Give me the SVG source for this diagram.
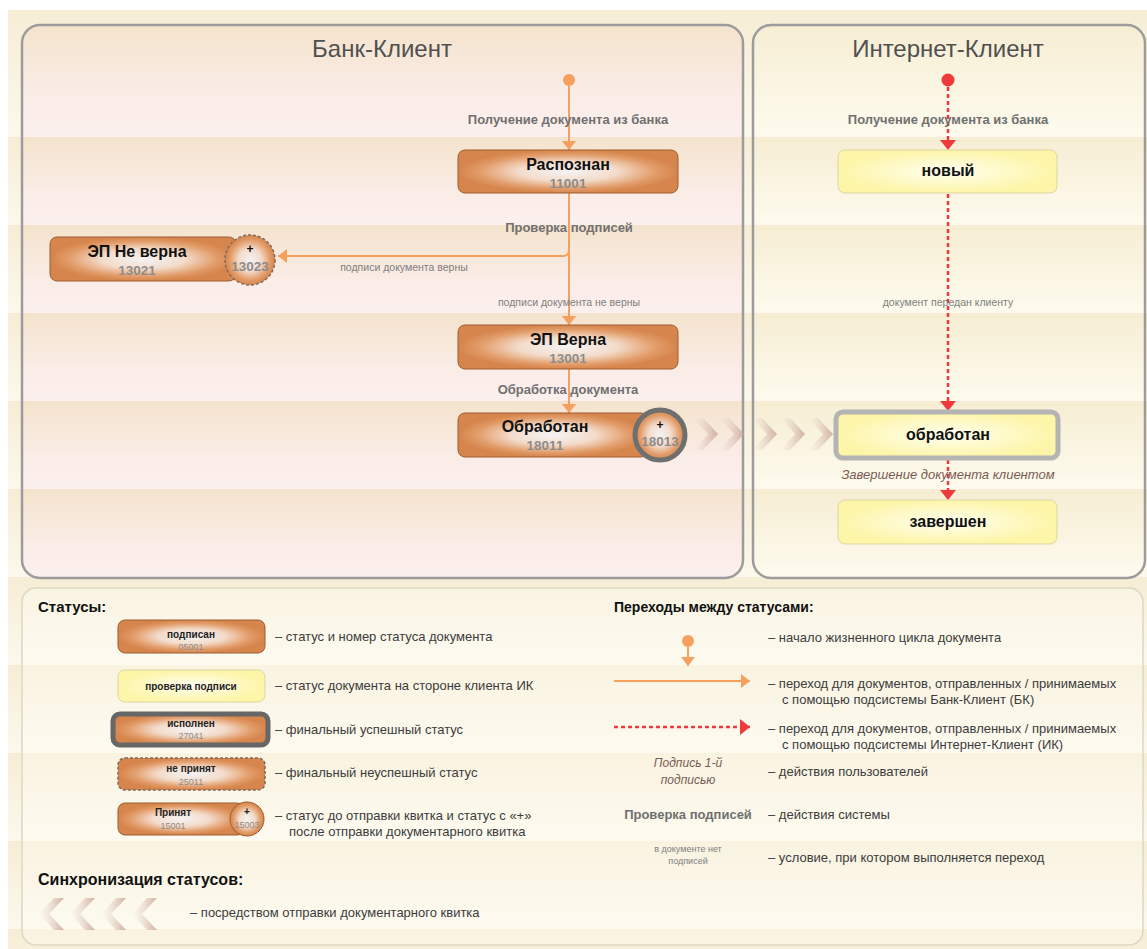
<svg xmlns="http://www.w3.org/2000/svg" width="1147" height="949" viewBox="0 0 1147 949">
<defs>
<style>
text{font-family:"Liberation Sans",Arial,sans-serif}
.ttl{font-size:24px;fill:#505050;text-anchor:middle}
.nt{font-size:16px;font-weight:bold;fill:#111;text-anchor:middle}
.nn{font-size:13.5px;font-weight:bold;fill:#8c8c8c;text-anchor:middle}
.lb{font-size:13px;font-weight:bold;fill:#707070;text-anchor:middle}
.sm{font-size:10.5px;fill:#808080;text-anchor:middle}
.it{font-size:13px;font-style:italic;fill:#7a5a55;text-anchor:middle}
.ob{fill:url(#og);stroke:#9b5c33;stroke-width:1}
.yb{fill:url(#yg);stroke:#dcd5a2;stroke-width:1}
.eo{fill:none;stroke:#f5a05f;stroke-width:2}
.er{fill:none;stroke:#ee3a3a;stroke-width:2.5;stroke-dasharray:4 3}
.hd{font-size:15px;font-weight:bold;fill:#111}
.ds{font-size:13px;fill:#3c3c3c}
.lt{font-size:10px;font-weight:bold;fill:#222;text-anchor:middle}
.ln{font-size:9px;fill:#8c8c8c;text-anchor:middle}
</style>
<radialGradient id="og" cx="50%" cy="50%" r="50%">
<stop offset="0" stop-color="#f5f3f4"/>
<stop offset="0.45" stop-color="#f3dccb"/>
<stop offset="0.8" stop-color="#e29c69"/>
<stop offset="1" stop-color="#d6854c"/>
</radialGradient>
<radialGradient id="yg" cx="50%" cy="50%" r="50%">
<stop offset="0" stop-color="#fffff0"/>
<stop offset="1" stop-color="#fdf5a8"/>
</radialGradient>
<linearGradient id="bgO" x1="0" y1="0" x2="0" y2="1">
<stop offset="0" stop-color="#f6edd5"/>
<stop offset="1" stop-color="#fcf8ec"/>
</linearGradient>
<linearGradient id="bgB" x1="0" y1="0" x2="0" y2="1">
<stop offset="0" stop-color="#f4e3cc"/>
<stop offset="0.6" stop-color="#faece6"/>
<stop offset="1" stop-color="#fcf0ee"/>
</linearGradient>
<linearGradient id="bgI" x1="0" y1="0" x2="0" y2="1">
<stop offset="0" stop-color="#f6edd3"/>
<stop offset="1" stop-color="#fefbee"/>
</linearGradient>
<linearGradient id="bgL" x1="0" y1="0" x2="0" y2="1">
<stop offset="0" stop-color="#f9f3e0"/>
<stop offset="1" stop-color="#fdfaf0"/>
</linearGradient>
<pattern id="pO" patternUnits="userSpaceOnUse" x="0" y="49" width="1147" height="88"><rect width="1147" height="88" fill="url(#bgO)"/></pattern>
<pattern id="pB" patternUnits="userSpaceOnUse" x="0" y="49" width="1147" height="88"><rect width="1147" height="88" fill="url(#bgB)"/></pattern>
<pattern id="pI" patternUnits="userSpaceOnUse" x="0" y="49" width="1147" height="88"><rect width="1147" height="88" fill="url(#bgI)"/></pattern>
<pattern id="pL" patternUnits="userSpaceOnUse" x="0" y="49" width="1147" height="88"><rect width="1147" height="88" fill="url(#bgL)"/></pattern>
<clipPath id="cB"><rect x="22" y="25" width="721" height="553" rx="18"/></clipPath>
<clipPath id="cI"><rect x="753" y="25" width="392" height="553" rx="18"/></clipPath>
<linearGradient id="chR" x1="0" y1="0" x2="1" y2="0">
<stop offset="0" stop-color="#e8d8cc" stop-opacity="0"/>
<stop offset="1" stop-color="#c7a394" stop-opacity="0.85"/>
</linearGradient>
<linearGradient id="chL" x1="0" y1="0" x2="1" y2="0">
<stop offset="0" stop-color="#c7a394" stop-opacity="0.85"/>
<stop offset="1" stop-color="#e8d8cc" stop-opacity="0"/>
</linearGradient>
<marker id="ao" viewBox="0 0 9 14" refX="9" refY="7" markerWidth="9" markerHeight="14" orient="auto" markerUnits="userSpaceOnUse"><path d="M0,0 L9,7 L0,14 z" fill="#f5a05f"/></marker>
<marker id="ar" viewBox="0 0 10 16" refX="10" refY="8" markerWidth="10" markerHeight="16" orient="auto" markerUnits="userSpaceOnUse"><path d="M0,0 L10,8 L0,16 z" fill="#ee3a3a"/></marker>
<polygon id="chev" points="0,-16 10,-16 25,0 10,16 0,16 15,0"/>
</defs>

<rect x="0" y="0" width="1147" height="949" fill="#ffffff"/>
<rect x="8" y="10" width="1139" height="939" fill="url(#pO)"/>
<rect x="8" y="10" width="1139" height="127" fill="url(#bgO)"/>

<g id="panel-bank">
<rect x="22" y="25" width="721" height="553" rx="18" fill="url(#pB)"/>
<rect x="22" y="25" width="721" height="112" fill="url(#bgB)" clip-path="url(#cB)"/>
<rect x="22" y="25" width="721" height="553" rx="18" fill="none" stroke="#9c9c9c" stroke-width="2.5"/>
<text class="ttl" x="382" y="57">Банк-Клиент</text>
</g>
<g id="panel-internet">
<rect x="753" y="25" width="392" height="553" rx="18" fill="url(#pI)"/>
<rect x="753" y="25" width="392" height="112" fill="url(#bgI)" clip-path="url(#cI)"/>
<rect x="753" y="25" width="392" height="553" rx="18" fill="none" stroke="#9c9c9c" stroke-width="2.5"/>
<text class="ttl" x="948" y="57">Интернет-Клиент</text>
</g>

<g id="connectors">
<circle cx="569" cy="80" r="6" fill="#f5a05f"/>
<path class="eo" d="M569,86 V150" marker-end="url(#ao)"/>
<path class="eo" d="M569,193 V325" marker-end="url(#ao)"/>
<path class="eo" d="M569,193 V250 Q569,256 563,256 H278" marker-end="url(#ao)"/>
<path class="eo" d="M569,369 V413" marker-end="url(#ao)"/>
<text class="lb" x="568" y="124">Получение документа из банка</text>
<text class="lb" x="569" y="232">Проверка подписей</text>
<text class="sm" x="404" y="271">подписи документа верны</text>
<text class="sm" x="569" y="306">подписи документа не верны</text>
<text class="lb" x="568" y="394">Обработка документа</text>

<circle cx="948" cy="80" r="6.5" fill="#ee3a3a"/>
<path class="er" d="M948,87 V150" marker-end="url(#ar)"/>
<path class="er" d="M948,194 V411" marker-end="url(#ar)"/>
<path class="er" d="M948,460 V500" marker-end="url(#ar)"/>
<text class="lb" x="948" y="124">Получение документа из банка</text>
<text class="sm" x="948" y="306">документ передан клиенту</text>
<text class="it" x="948" y="479">Завершение документа клиентом</text>

<g fill="url(#chR)">
<use href="#chev" x="693" y="434"/>
<use href="#chev" x="719" y="434"/>
<use href="#chev" x="752" y="434"/>
<use href="#chev" x="780" y="434"/>
<use href="#chev" x="808" y="434"/>
</g>
</g>

<g id="node-raspoznan">
<rect class="ob" x="458" y="150" width="220" height="43" rx="7"/>
<text class="nt" x="568" y="170">Распознан</text>
<text class="nn" x="568" y="188">11001</text>
</g>
<g id="node-ep-ne-verna">
<rect class="ob" x="50" y="237" width="186" height="44" rx="7"/>
<text class="nt" x="137" y="257">ЭП Не верна</text>
<text class="nn" x="137" y="275">13021</text>
<circle cx="250" cy="260" r="25" fill="url(#og)" stroke="#7f6a5e" stroke-width="1.5" stroke-dasharray="3 2"/>
<text class="nt" x="250" y="253" style="font-size:12px">+</text>
<text class="nn" x="250" y="271">13023</text>
</g>
<g id="node-ep-verna">
<rect class="ob" x="458" y="325" width="220" height="44" rx="7"/>
<text class="nt" x="568" y="345">ЭП Верна</text>
<text class="nn" x="568" y="363">13001</text>
</g>
<g id="node-obrabotan-bk">
<rect class="ob" x="458" y="413" width="190" height="44" rx="7"/>
<text class="nt" x="545" y="432">Обработан</text>
<text class="nn" x="545" y="450">18011</text>
<circle cx="660" cy="435" r="25" fill="url(#og)" stroke="#6f6f6f" stroke-width="5"/>
<text class="nt" x="660" y="429" style="font-size:12px">+</text>
<text class="nn" x="660" y="446">18013</text>
</g>

<g id="node-novyi">
<rect class="yb" x="838" y="150" width="219" height="43" rx="7"/>
<text class="nt" x="948" y="176">новый</text>
</g>
<g id="node-obrabotan-ik">
<rect class="yb" x="836" y="412" width="222" height="46" rx="7" style="stroke:#b4b4b4;stroke-width:5"/>
<text class="nt" x="948" y="440">обработан</text>
</g>
<g id="node-zavershen">
<rect class="yb" x="838" y="500" width="219" height="44" rx="7"/>
<text class="nt" x="948" y="527">завершен</text>
</g>

<g id="legend">
<rect x="22" y="588" width="1121" height="357" rx="14" fill="url(#pL)" stroke="#ddd7c4" stroke-width="1.5"/>
<text class="hd" x="38" y="612">Статусы:</text>

<rect class="ob" x="118" y="620" width="147" height="33" rx="7"/>
<text class="lt" x="191" y="638">подписан</text>
<text class="ln" x="191" y="650">05001</text>
<text class="ds" x="275" y="641">–  статус и номер статуса документа</text>

<rect class="yb" x="118" y="670" width="147" height="32" rx="7"/>
<text class="lt" x="191" y="690">проверка подписи</text>
<text class="ds" x="275" y="690">–  статус документа на стороне клиента ИК</text>

<rect class="ob" x="113" y="714" width="155" height="31" rx="7" style="stroke:#676767;stroke-width:5"/>
<text class="lt" x="191" y="727">исполнен</text>
<text class="ln" x="191" y="739">27041</text>
<text class="ds" x="275" y="734">–  финальный успешный статус</text>

<rect class="ob" x="118" y="758" width="147" height="32" rx="7" style="stroke:#7f6a5e;stroke-width:1.5;stroke-dasharray:3 2"/>
<text class="lt" x="191" y="772">не принят</text>
<text class="ln" x="191" y="785">25011</text>
<text class="ds" x="275" y="777">–  финальный неуспешный статус</text>

<rect class="ob" x="118" y="803" width="126" height="32" rx="7"/>
<text class="lt" x="173" y="816">Принят</text>
<text class="ln" x="173" y="829">15001</text>
<circle cx="247" cy="819" r="17" fill="url(#og)" stroke="#9b5c33" stroke-width="1"/>
<text class="lt" x="247" y="815">+</text>
<text class="ln" x="247" y="828">15003</text>
<text class="ds" x="275" y="820">–  статус до отправки квитка и статус с «+»</text>
<text class="ds" x="289" y="836">после отправки документарного квитка</text>

<text class="hd" x="38" y="885" style="font-size:16px">Синхронизация статусов:</text>
<g fill="url(#chL)">
<use href="#chev" transform="translate(64,914) scale(-1,1)"/>
<use href="#chev" transform="translate(95,914) scale(-1,1)"/>
<use href="#chev" transform="translate(126,914) scale(-1,1)"/>
<use href="#chev" transform="translate(157,914) scale(-1,1)"/>
</g>
<text class="ds" x="190" y="917">–  посредством отправки документарного квитка</text>

<text class="hd" x="614" y="612" style="font-size:14px">Переходы между статусами:</text>
<circle cx="688" cy="641" r="6" fill="#f5a05f"/>
<path class="eo" d="M688,647 V666" marker-end="url(#ao)"/>
<text class="ds" x="768" y="642">–  начало жизненного цикла документа</text>

<path class="eo" d="M614,681 H750" marker-end="url(#ao)"/>
<text class="ds" x="768" y="688">–  переход для документов, отправленных / принимаемых</text>
<text class="ds" x="782" y="704">с помощью подсистемы Банк-Клиент (БК)</text>

<path class="er" d="M614,727 H750" marker-end="url(#ar)"/>
<text class="ds" x="768" y="733">–  переход для документов, отправленных / принимаемых</text>
<text class="ds" x="782" y="749">с помощью подсистемы Интернет-Клиент (ИК)</text>

<text class="it" x="688" y="767" style="font-size:12px">Подпись 1-й</text>
<text class="it" x="688" y="784" style="font-size:12px">подписью</text>
<text class="ds" x="768" y="776">–  действия пользователей</text>

<text class="lb" x="688" y="819">Проверка подписей</text>
<text class="ds" x="768" y="819">–  действия системы</text>

<text class="sm" x="688" y="852" style="font-size:9px">в документе нет</text>
<text class="sm" x="688" y="864" style="font-size:9px">подписей</text>
<text class="ds" x="768" y="862">–  условие, при котором выполняется переход</text>
</g>
</svg>
